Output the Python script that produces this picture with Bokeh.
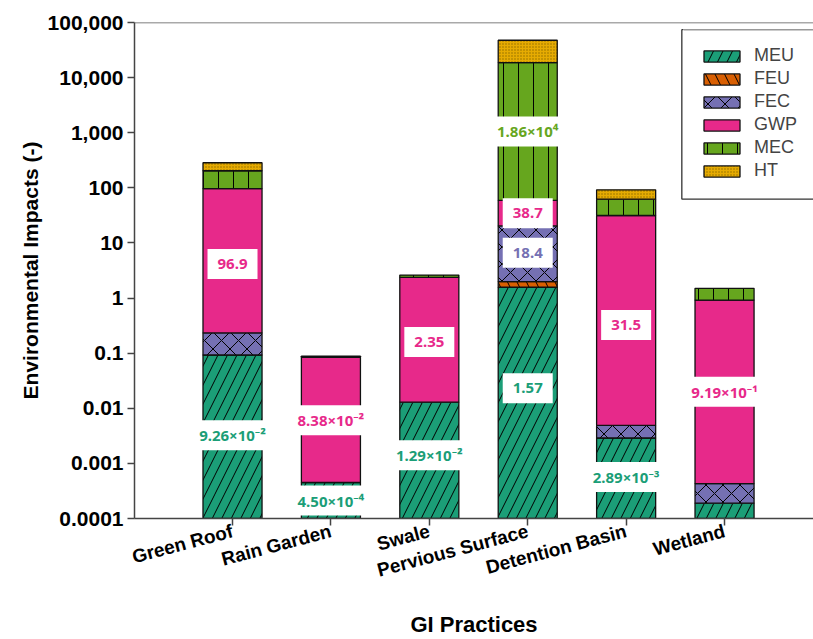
import numpy as np
from bokeh.plotting import figure
from bokeh.models import Range1d, FixedTicker, Span, Legend, LegendItem, ColumnDataSource
from bokeh.core.properties import value
from bokeh.embed import file_html
from bokeh.resources import INLINE

# ---------------- data ----------------
practices = ["Green Roof", "Rain Garden", "Swale", "Pervious Surface", "Detention Basin", "Wetland"]
impacts = ["MEU", "FEU", "FEC", "GWP", "MEC", "HT"]
meu = [9.26e-2, 4.50e-4, 1.29e-2, 1.57, 2.89e-3, 1.9e-4]
feu = [0.0, 0.0, 0.0, 0.41, 0.0, 0.0]
fec = [0.14, 0.0, 0.0, 18.4, 0.002, 2.4e-4]
gwp = [96.9, 8.38e-2, 2.35, 38.7, 31.5, 0.919]
mec = [107.0, 0.004, 0.25, 1.86e4, 30.8, 0.58]
ht = [81.0, 0.0, 0.0, 2.9e4, 29.7, 0.0]
y_ticks = [1e-4, 1e-3, 1e-2, 1e-1, 1, 10, 100, 1000, 10000, 100000]
y_tick_labels = ["0.0001", "0.001", "0.01", "0.1", "1", "10", "100", "1,000", "10,000", "100,000"]

# annotated values: (practice index, impact)
annot_practice = [0, 0, 1, 1, 2, 2, 3, 3, 3, 3, 4, 4, 5]
annot_impact = ["GWP", "MEU", "GWP", "MEU", "GWP", "MEU", "MEC", "GWP", "FEC", "MEU", "GWP", "MEU", "GWP"]
# label anchor heights (layout)
annot_y = [4.15, 3.23e-3, 6.05e-3, 2.12e-4, 0.16, 1.4e-3, 1056, 34.7, 6.67, 2.31e-2, 0.323, 5.65e-4, 1.99e-2]

# ---------------- styles ----------------
colors = {"MEU": "#1b9e77", "FEU": "#d95f02", "FEC": "#7570b3", "GWP": "#e7298a", "MEC": "#66a61e", "HT": "#e6ab02"}
hatch = {"MEU": ("/", 19, "black", 1.0), "FEU": ("\\", 19, "black", 1.0), "FEC": ("x", 17, "black", 1.0),
         "GWP": (None, 12, "black", 1.0), "MEC": ("|", 15, "black", 1.0), "HT": (".", 3, "#6b5000", 0.7)}
series = {"MEU": meu, "FEU": feu, "FEC": fec, "GWP": gwp, "MEC": mec, "HT": ht}

BASE = 1e-4
xs = np.arange(len(practices), dtype=float)

p = figure(width=813, height=639, y_axis_type="log",
           x_range=Range1d(-0.996, 5.904), y_range=Range1d(1e-4, 1e5),
           output_backend="svg", toolbar_location=None,
           min_border_left=134, min_border_top=22, min_border_bottom=121, min_border_right=0)
p.outline_line_color = None
p.xgrid.visible = False
p.ygrid.visible = False
p.background_fill_color = "white"
p.border_fill_color = "white"

cum = np.zeros(len(practices))
renderers = {}
for name in impacts:
    v = np.array(series[name], dtype=float)
    bottom = np.maximum(cum, BASE)
    top = cum + v
    mask = v > 0
    src = ColumnDataSource(dict(x=xs[mask], bottom=bottom[mask], top=top[mask]))
    hp, hs, hc, ha = hatch[name]
    kw = {}
    if hp is not None:
        kw = dict(hatch_pattern=hp, hatch_scale=hs, hatch_color=hc, hatch_alpha=ha, hatch_weight=1.0)
    r = p.vbar(x="x", bottom="bottom", top="top", width=0.6, source=src,
               fill_color=colors[name], line_color="#111111", line_width=1.3, **kw)
    renderers[name] = r
    cum = top

# value labels
def fmt(v):
    if 1 <= v < 1000:
        return f"{v:.3g}" if v < 100 else f"{v:.1f}"
    e = int(np.floor(np.log10(v)))
    m = v / 10 ** e
    sup = str.maketrans("-0123456789", "⁻⁰¹²³⁴⁵⁶⁷⁸⁹")
    return f"{m:.2f}×10" + str(e).translate(sup)

lab_x, lab_y, lab_t, lab_c, lab_w = [], [], [], [], []
for i, imp, yy in zip(annot_practice, annot_impact, annot_y):
    val = series[imp][i]
    t = fmt(val)
    lab_x.append(xs[i]); lab_y.append(yy); lab_t.append(t); lab_c.append(colors[imp])
    lab_w.append(50 if "×" not in t else 74)
lsrc = ColumnDataSource(dict(x=lab_x, y=lab_y, t=lab_t, c=lab_c, w=lab_w))
p.rect(x="x", y="y", width="w", height=30, width_units="screen", height_units="screen",
       source=lsrc, fill_color="white", line_color=None)
p.text(x="x", y="y", text="t", source=lsrc, text_color="c", text_align="center", text_baseline="middle",
       text_font=value("Noto Sans"), text_font_style="bold", text_font_size="15px")

# top frame line
p.add_layout(Span(location=1e5, dimension="width", line_color="#555555", line_width=1.5))

# legend frame: open on the right, it runs past the plot edge (clipped by the frame)
box_left, box_right, box_top, box_bottom = 4.566, 6.5, 7.4e4, 62.6
p.line(x=[box_right, box_left, box_left, box_right], y=[box_top, box_top, box_bottom, box_bottom],
       line_color="#333333", line_width=1.3)

# axes
p.xaxis.ticker = FixedTicker(ticks=list(xs))
p.xaxis.major_label_overrides = {int(i): n for i, n in enumerate(practices)}
p.xaxis.major_label_orientation = 0.26
p.yaxis.ticker = FixedTicker(ticks=y_ticks)
p.yaxis.major_label_overrides = {(int(t) if t >= 1 else t): s for t, s in zip(y_ticks, y_tick_labels)}
for ax in (p.xaxis, p.yaxis):
    ax.axis_line_color = "#444444"
    ax.axis_line_width = 1.5
    ax.major_tick_line_color = "#444444"
    ax.major_tick_line_width = 1.5
    ax.major_tick_out = 7
    ax.major_tick_in = 0
    ax.minor_tick_line_color = None
    ax.major_label_text_font = "Liberation Sans"
    ax.major_label_text_font_style = "bold"
    ax.major_label_text_color = "black"
    ax.axis_label_text_font = "Liberation Sans"
    ax.axis_label_text_font_style = "bold"
    ax.axis_label_text_color = "black"
p.yaxis.major_label_text_font_size = "21px"
p.xaxis.major_label_text_font_size = "19px"
p.yaxis.major_label_standoff = 4
p.yaxis.axis_label = "Environmental Impacts (-)"
p.yaxis.axis_label_text_font_size = "21px"
p.yaxis.axis_label_standoff = 3
p.xaxis.axis_label = "GI Practices"
p.xaxis.axis_label_text_font_size = "22px"
p.xaxis.axis_label_standoff = 18
p.xaxis.major_label_standoff = 5

legend = Legend(items=[LegendItem(label=n, renderers=[renderers[n]]) for n in impacts],
                location=(549, 321), glyph_width=45, glyph_height=14, label_height=14,
                spacing=2, padding=15, margin=0, label_standoff=10,
                label_text_font="Liberation Sans", label_text_font_size="18px",
                border_line_color="white", border_line_width=0.5,
                background_fill_alpha=0.0, label_width=60)
p.add_layout(legend)

open("out.html", "w").write(file_html(p, INLINE))
